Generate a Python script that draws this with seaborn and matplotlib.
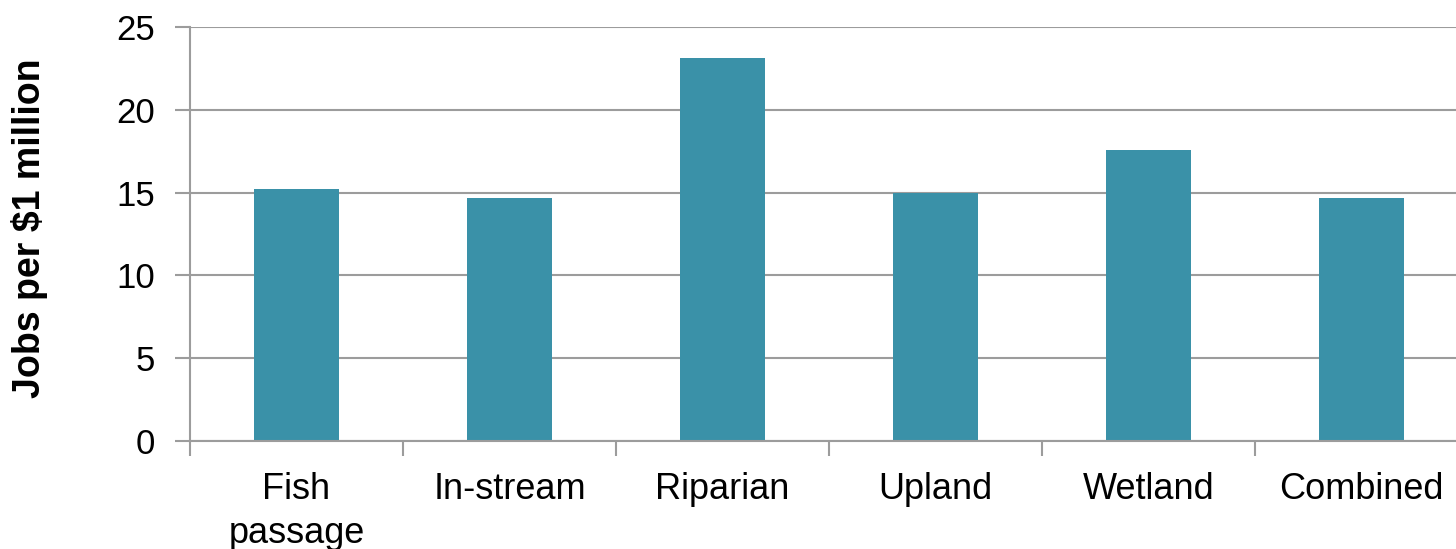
import matplotlib
matplotlib.use("Agg")
import matplotlib.pyplot as plt
import seaborn as sns
import pandas as pd
from matplotlib.ticker import FixedLocator

categories = ["Fish\npassage", "In-stream", "Riparian", "Upland", "Wetland", "Combined"]
jobs = [15.2, 14.7, 23.1, 15.0, 17.6, 14.7]

df = pd.DataFrame({"category": categories, "jobs": jobs})

sns.set_style("white")
plt.rcParams["font.family"] = ["Liberation Sans", "DejaVu Sans"]
plt.rcParams["text.color"] = "black"
plt.rcParams["xtick.color"] = "black"
plt.rcParams["ytick.color"] = "black"
plt.rcParams["axes.labelcolor"] = "black"

fig = plt.figure(figsize=(14.56, 5.49), dpi=100)
ax = fig.add_axes([190 / 1456, 1 - 441 / 549, 1278 / 1456, 414 / 549])

sns.barplot(data=df, x="category", y="jobs", color="#3A91A8", saturation=1,
            width=0.4, linewidth=0, ax=ax, zorder=3)

grid_col = "#9C9C9C"
ax.set_ylim(0, 25)
ax.set_xlim(-0.5, len(categories) - 0.5)
ax.set_yticks(range(0, 26, 5))
ax.yaxis.grid(True, color=grid_col, linewidth=1.5, zorder=0)
ax.set_axisbelow(True)

for side in ["top", "right"]:
    ax.spines[side].set_visible(False)
for side in ["left", "bottom"]:
    ax.spines[side].set_color(grid_col)
    ax.spines[side].set_linewidth(1.5)
    ax.spines[side].set_zorder(4)

ax.tick_params(axis="y", length=11, width=1.5, color=grid_col, direction="out",
               labelsize=25, labelcolor="black", pad=14, left=True)
ax.tick_params(axis="x", which="major", length=0, labelsize=26, labelcolor="black", pad=22)
ax.xaxis.set_minor_locator(FixedLocator([i - 0.5 for i in range(len(categories) + 1)]))
ax.tick_params(axis="x", which="minor", length=11, width=1.5, color=grid_col,
               direction="out", bottom=True)
for lab in ax.get_xticklabels():
    lab.set_linespacing(1.35)
    lab.set_verticalalignment("top")

ax.set_xlabel("")
ax.set_ylabel("Jobs per $1 million", fontsize=27, fontweight="bold", color="black")
ax.yaxis.set_label_coords(-142 / 1278, 0.515)

fig.savefig("out.png", dpi=100)
